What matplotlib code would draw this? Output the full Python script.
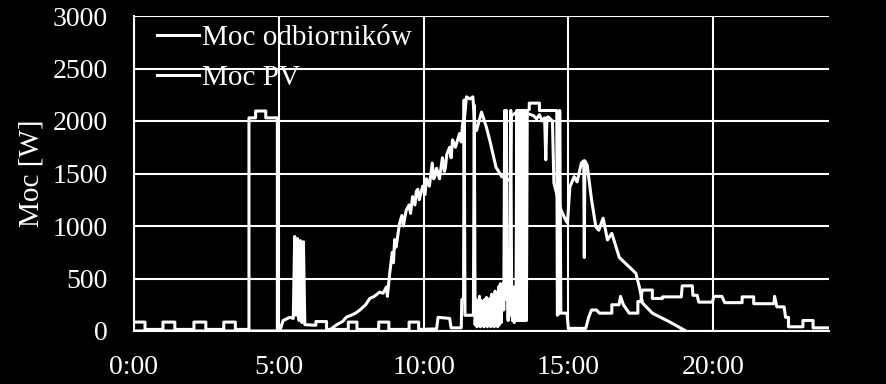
import matplotlib
matplotlib.use("Agg")
import matplotlib.pyplot as plt

# Moc odbiorników (load) - hours, W
load_t = [0.0, 0.38, 0.38, 1.0, 1.0, 1.41, 1.41, 2.07, 2.07, 2.48, 2.48, 3.1, 3.1, 3.5, 3.5,
          3.97, 3.97, 4.2, 4.2, 4.55, 4.55, 4.95, 4.95, 5.05, 5.15, 5.38, 5.5, 5.55, 5.6, 5.65,
          5.7, 5.75, 5.8, 5.85, 5.9, 6.28, 6.28, 6.65, 6.65, 7.4, 7.4, 7.7, 7.7, 8.45, 8.45,
          8.8, 8.8, 9.5, 9.5, 9.83, 9.83, 10.45, 10.5, 10.9, 10.95, 11.3, 11.32, 11.38, 11.4,
          11.43, 11.72, 11.75, 11.78,
          11.81, 11.84, 11.87, 11.9, 11.93, 11.96, 11.99, 12.02, 12.05, 12.08, 12.11, 12.14,
          12.17, 12.2, 12.23, 12.26, 12.29, 12.32, 12.35, 12.38, 12.41, 12.44, 12.47, 12.5,
          12.53, 12.56, 12.59, 12.62, 12.65, 12.68,
          12.71, 12.74, 12.77, 12.8, 12.83, 12.86, 12.89, 12.92, 12.95, 12.98, 13.01, 13.04,
          13.07, 13.1, 13.13, 13.16, 13.19,
          13.22, 13.25, 13.28, 13.31, 13.34, 13.37, 13.4, 13.43, 13.46, 13.49, 13.52, 13.55,
          13.58, 13.65, 13.65, 14.0, 14.0, 14.55,
          14.6, 14.62, 14.68, 14.7, 14.74, 14.95, 15.0, 15.6, 15.7, 15.8, 15.97, 16.07, 16.5,
          16.5, 16.75, 16.8, 16.9, 17.1, 17.4, 17.4, 17.5, 17.55, 17.9, 17.9, 18.25, 18.25, 18.9,
          18.93, 19.28, 19.3, 19.45, 19.5, 19.97, 20.03, 20.3, 20.4, 21.0, 21.0, 21.4, 21.4,
          22.1, 22.12, 22.2, 22.45, 22.5, 22.6, 22.6, 23.1, 23.1, 23.45, 23.45, 24.0]
load_w = [85, 85, 15, 15, 85, 85, 15, 15, 85, 85, 15, 15, 85, 85, 15,
          15, 2030, 2030, 2095, 2095, 2030, 2030, 15, 15, 100, 130, 120, 900, 150, 880,
          100, 860, 80, 850, 60, 55, 90, 90, 15, 15, 85, 85, 15, 15, 85,
          85, 15, 15, 85, 85, 15, 20, 130, 120, 30, 30, 300, 300, 2200,
          150, 150, 2150, 60,
          300, 40, 280, 50, 330, 40, 290, 60, 260, 40, 300, 50,
          320, 40, 270, 60, 310, 40, 350, 50, 330, 40, 380, 60,
          360, 40, 420, 60, 450, 80,
          300, 450, 200, 2100, 300, 2100, 400, 100, 450, 150, 2100, 400,
          100, 420, 80, 380, 100,
          2100, 100, 2100, 100, 2100, 100, 2100, 100, 2100, 100, 2100, 100,
          2100, 2110, 2170, 2170, 2100, 2100,
          2100, 150, 170, 2100, 170, 170, 25, 25, 130, 200, 200, 170, 170,
          250, 250, 330, 250, 170, 170, 280, 280, 390, 390, 310, 310, 325, 325,
          430, 430, 340, 340, 275, 275, 330, 330, 270, 270, 325, 325, 260,
          260, 330, 230, 230, 130, 130, 40, 40, 100, 100, 30, 30]

# Moc PV - hours, W
pv_t = [0.0, 6.7, 6.76, 7.0, 7.2, 7.34, 7.5, 7.65, 7.8, 8.0, 8.14, 8.3, 8.48, 8.6, 8.72, 8.75,
        8.83, 8.92, 8.96, 9.0, 9.05, 9.17, 9.25, 9.3, 9.4, 9.5, 9.55, 9.62, 9.7, 9.75, 9.8,
        9.85, 9.97, 10.05, 10.1, 10.2, 10.3, 10.35, 10.4, 10.45, 10.55, 10.65, 10.72, 10.75,
        10.8, 10.9, 10.95, 11.0, 11.1, 11.24, 11.3, 11.35, 11.42,
        11.48, 11.6, 11.7, 11.78, 11.83, 12.0, 12.17, 12.3, 12.5, 12.7, 12.8, 13.0, 13.03,
        13.2, 13.4, 13.6, 13.8, 13.9, 14.0, 14.1, 14.18, 14.22, 14.26, 14.3, 14.45,
        14.5, 14.65, 14.75, 14.9, 14.97, 15.05, 15.2, 15.3, 15.45, 15.53, 15.55, 15.57,
        15.65, 15.8, 15.95, 16.05, 16.2, 16.35, 16.5, 16.76, 17.33, 17.45, 17.56, 17.9,
        18.5, 19.06]
pv_w = [0, 0, 10, 60, 90, 133, 150, 170, 200, 250, 310, 330, 370, 360, 420, 330,
        550, 750, 650, 870, 800, 1025, 1100, 1000, 1150, 1200, 1120, 1280, 1200, 1330, 1350,
        1250, 1380, 1300, 1450, 1380, 1600, 1450, 1480, 1550, 1450, 1650, 1520, 1550,
        1680, 1750, 1650, 1820, 1750, 1880, 1800, 1980, 2050,
        2230, 2210, 2230, 1950, 1910, 2085, 1940, 1800, 1560, 1470, 1460, 1430, 2050,
        2080, 2040, 2070, 2050, 2020, 2060, 2000, 2030, 1630, 2030, 2040, 2000,
        1410, 1250, 1150, 1060, 1030, 1370, 1470, 1420, 1600, 1620, 700, 1620,
        1580, 1250, 990, 960, 1075, 867, 930, 700, 550, 420, 267, 170,
        86, 0]

x_ticks = [0, 5, 10, 15, 20]
x_labels = ["0:00", "5:00", "10:00", "15:00", "20:00"]
y_ticks = [0, 500, 1000, 1500, 2000, 2500, 3000]

plt.rcParams["font.family"] = ["Liberation Serif", "DejaVu Serif"]

fig = plt.figure(figsize=(8.86, 3.84), dpi=100, facecolor="black")
ax = fig.add_axes([134 / 886, 1 - 331 / 384, 695 / 886, 315 / 384])
ax.set_facecolor("black")

ax.plot(load_t, load_w, color="white", lw=2.2, label="Moc odbiorników", zorder=3)
ax.plot(pv_t, pv_w, color="white", lw=2.2, label="Moc PV", zorder=3)

ax.set_xlim(0, 24)
ax.set_ylim(0, 3000)
ax.set_xticks(x_ticks)
ax.set_xticklabels(x_labels)
ax.set_yticks(y_ticks)
ax.grid(True, color="white", lw=1.5)
ax.set_axisbelow(True)
for side in ["top", "right"]:
    ax.spines[side].set_visible(False)
for side in ["left", "bottom"]:
    ax.spines[side].set_color("white")
    ax.spines[side].set_linewidth(1.5)
ax.tick_params(colors="white", labelsize=20, length=0)
ax.tick_params(axis="y", pad=19)
ax.tick_params(axis="x", pad=17)
ax.set_ylabel("Moc [W]", color="white", fontsize=21, labelpad=6)

leg = ax.legend(loc="upper left", bbox_to_anchor=(23 / 695, 1 - 9 / 315), frameon=False,
                fontsize=21, handlelength=1.45, handletextpad=0.1, labelspacing=0.45,
                borderpad=0, borderaxespad=0)
for t in leg.get_texts():
    t.set_color("white")

fig.savefig("out.png", dpi=100, facecolor="black")
